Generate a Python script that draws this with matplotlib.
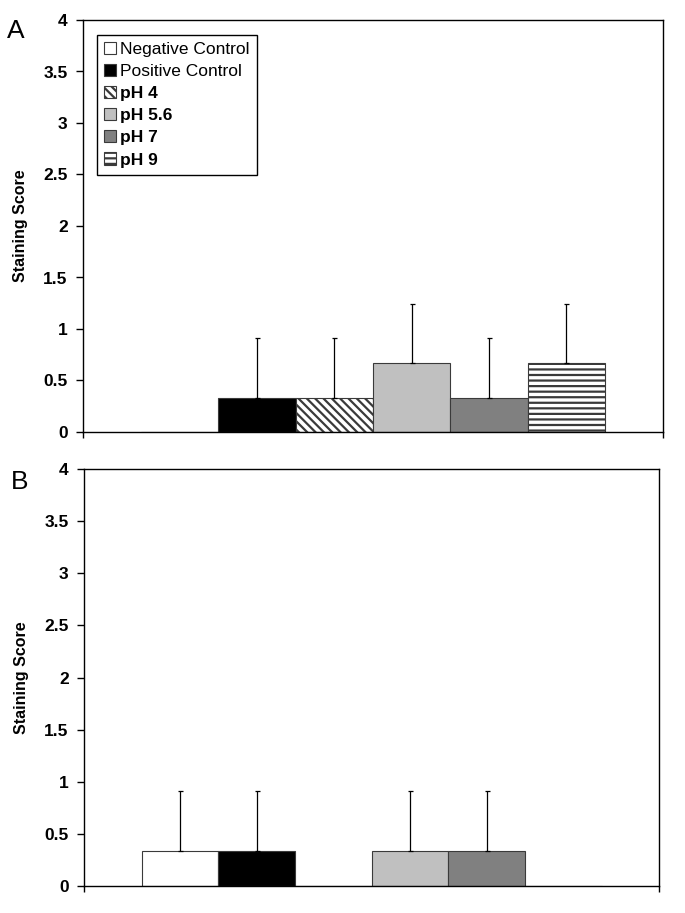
import numpy as np
import matplotlib
matplotlib.use("Agg")
import matplotlib.pyplot as plt

plt.rcParams['font.family'] = ['Liberation Sans', 'DejaVu Sans']
plt.rcParams['hatch.linewidth'] = 1.6

# ---- data ----
groups = ["Negative Control", "Positive Control", "pH 4", "pH 5.6", "pH 7", "pH 9"]
means_A = [0.0, 0.333, 0.333, 0.667, 0.333, 0.667]
err_A = [0.0, 0.577, 0.577, 0.577, 0.577, 0.577]
means_B = [0.333, 0.333, 0.0, 0.333, 0.333, 0.0]
err_B = [0.577, 0.577, 0.0, 0.577, 0.577, 0.0]
yticks = [0, 0.5, 1, 1.5, 2, 2.5, 3, 3.5, 4]
ytick_labels = ["0", "0.5", "1", "1.5", "2", "2.5", "3", "3.5", "4"]
panel_labels = ["A", "B"]

# ---- styles ----
facecolors = ["white", "black", "white", "#C0C0C0", "#808080", "white"]
hatches = [None, None, "\\\\\\\\", None, None, "---"]
bold_legend = [False, False, True, True, True, True]

W, H = 685, 913
fig = plt.figure(figsize=(W / 100, H / 100), dpi=100)

def px_axes(l, t, r, b):
    return fig.add_axes([l / W, 1 - b / H, (r - l) / W, (b - t) / H])

axA = px_axes(83, 20, 663, 432)
axB = px_axes(84, 469, 659, 886)

n = len(groups)
w = 0.8 / n
xs = np.array([(i - (n - 1) / 2) * w for i in range(n)])

def draw(ax, means, errs, legend=False):
    for i in range(n):
        ax.bar(xs[i], means[i], width=w, color=facecolors[i],
               edgecolor="#3a3a3a", linewidth=0.8, hatch=hatches[i],
               label=groups[i], zorder=2)
    errs = np.array(errs)
    m = errs > 0
    ax.errorbar(xs[m], np.array(means)[m], yerr=[np.zeros(m.sum()), errs[m]],
                fmt="none", ecolor="black", elinewidth=0.9, capsize=1.8,
                capthick=0.9, zorder=3)
    ax.set_xlim(-0.5, 0.5)
    ax.set_ylim(0, 4)
    ax.set_yticks(yticks)
    ax.set_yticklabels(ytick_labels, fontweight="bold", fontsize=12.5)
    ax.set_xticks([-0.5, 0.5])
    ax.set_xticklabels([])
    ax.tick_params(axis="y", direction="out", length=5, width=1, pad=6)
    ax.tick_params(axis="x", direction="out", length=4.5, width=1)
    for s in ax.spines.values():
        s.set_linewidth(1.0)
        s.set_color("black")
    ax.set_ylabel("Staining Score", fontweight="bold", fontsize=11.5)
    if legend:
        leg = ax.legend(loc="upper left", bbox_to_anchor=(0.024, 0.9636),
                        borderaxespad=0, fancybox=False, edgecolor="black",
                        framealpha=1, fontsize=12.5, handlelength=0.7,
                        handleheight=0.7, handletextpad=0.25, labelspacing=0.40,
                        borderpad=0.4)
        leg.get_frame().set_linewidth(1.0)
        for t, bf in zip(leg.get_texts(), bold_legend):
            if bf:
                t.set_fontweight("bold")

draw(axA, means_A, err_A, legend=True)
draw(axB, means_B, err_B)

axA.yaxis.set_label_coords(-0.094, 0.5)
axB.yaxis.set_label_coords(-0.096, 0.5)

fig.text(7 / W, 1 - 19 / H, panel_labels[0], fontsize=19, va="top", ha="left")
fig.text(11 / W, 1 - 470 / H, panel_labels[1], fontsize=19, va="top", ha="left")

fig.savefig("out.png", dpi=100)
